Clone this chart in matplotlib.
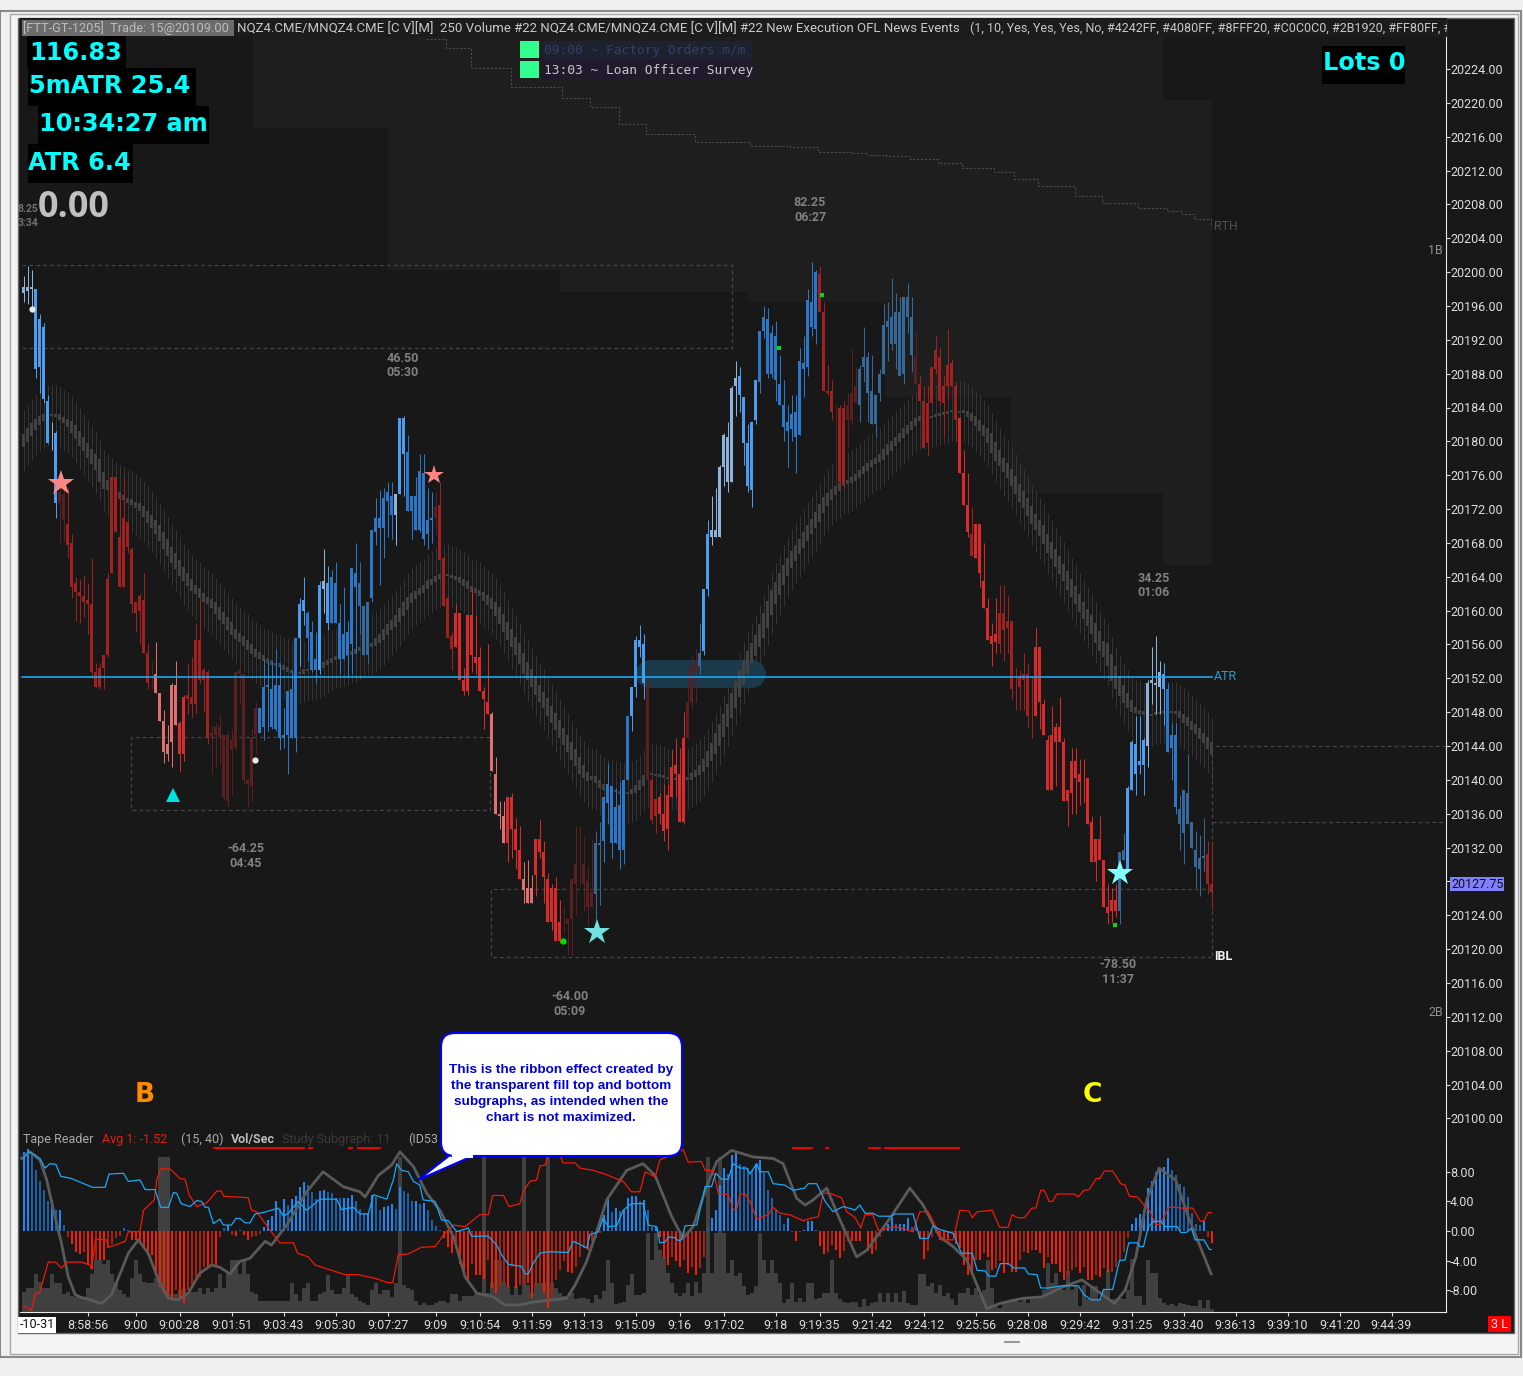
import matplotlib
matplotlib.use('Agg')
import matplotlib.pyplot as plt
import numpy as np
from matplotlib.patches import Rectangle, FancyBboxPatch, Polygon

# all prices are stored minus 20000
BASE = 20000

HIGH = [199.5,200.75,200.25,198,195,194,185.5,182.25,181.25,175.75,
 175.25,174.5,169,164,163.75,164.25,163.25,166.25,153.75,153.75,
 154.75,164.5,175.75,175.75,174,175.75,170.5,167.5,161,162,
 164.5,156,154,156.25,150.25,148.25,146.5,151.5,154,147,
 150,153.75,154.5,158.5,161.5,153.25,153,146.5,146.75,147.75,
 145.25,145.75,146,152.75,153.75,152.5,140.25,146,149.25,148.5,
 154.25,154,154,155.5,153.75,148.5,150.5,153,156.75,161.5,
 164,160,158.75,157.5,163.5,167.25,165.25,164.75,165.75,160.75,
 162.75,158.75,165,168,165.75,160.5,161,169.5,173.25,174.25,
 174.5,175.25,175.25,173.75,182.75,183,180.75,173.5,175.75,178.5,
 178.5,174.5,174,174,175.25,166.5,161.5,157.5,160.75,159.75,
 153.25,159.5,162.5,159.5,155.75,151,156,148,142.75,137.5,
 137.5,138,138.5,135.5,134.5,130.25,130.5,128.75,133,135.25,
 132.75,129,127.75,128.5,125.75,125,123.5,128.25,134.5,134.5,
 133.25,129.75,133,134,135,138,142,139.25,139,139.75,
 140,147.5,151,157,158.25,157.25,152.25,140.25,137.75,138.5,
 139.5,139.5,143.5,145,143.75,148,153.75,154.75,155.5,158.5,
 162.5,170.75,173.5,174.5,177.25,181,182.25,186.5,189.5,188.75,
 185.25,182,182.25,187.25,193,196,195.75,193.75,194.25,190.25,
 187.25,184.25,185.5,185.5,191,192.5,198,201.25,200.25,200.75,
 196.5,189,187.25,184.25,184.25,184.75,185.75,191,188.75,189,
 193.5,190.5,190.25,185.5,188.5,196.25,196.5,199.25,197.5,197,
 197,198.75,197,193,187.75,186.5,186.5,188.75,192.5,191,
 187.75,193.25,189.75,187,182.75,179,176.25,172.25,170.25,170.25,
 168,161.5,158.5,161.5,163,163,161.75,158.75,153.25,153,
 155,153.75,152.25,158,155.75,149.5,145.25,148.75,146.75,149.75,
 145,138.75,143.75,143.75,142.5,142.5,140.25,135.75,133,135.75,
 130.5,127.75,127.25,127.75,131.5,133.75,139.25,144.75,147.5,147.5,
 145,151.75,155.75,157,154,153.75,151.5,146.75,146.75,138.25,
 138.75,143,135,134,133.5,135.5,132.75,132.75]

BODY_TOP = [198.25,198.25,198.25,198,194.5,193.5,184.75,180.5,181,174,
 173.75,170.25,168,163.25,162.25,161.75,161.25,160.75,152.75,153.25,
 154.75,163.75,175.75,175.75,168.75,171,170.5,167.25,161,161.75,
 161.25,155,151,152.5,150.25,147,144.25,151.25,151.25,146.75,
 149.75,150,149.75,156.5,156.5,153,152.75,145.5,146.25,146.25,
 145.25,145.25,144.75,152.75,153,152.5,140,145,148.5,148.5,
 151,151.25,150.75,151.25,151.25,145.25,150.5,150.75,156.75,160.75,
 161.25,159.75,157.5,154.25,163,163.5,163.25,164,163.25,158.5,
 157.25,157.5,165,164.5,163.25,160.5,161,169.5,171,171,
 173.25,174,173.5,173.75,182.75,182.75,178.75,173.5,173.5,176.5,
 176.25,170.75,171,172.25,172.5,166.25,161.5,157,159.75,159.75,
 151.75,159.5,159.5,154.5,154.5,150.5,149.25,147.75,140.75,136,
 135.75,138,138,134.25,131.75,128.25,127.25,127.25,133,133,
 131.5,128.25,127.25,127.25,123.25,122.75,123.5,128.25,130,130,
 130,128,126.75,132.5,132.5,138,139.5,139.25,136.75,137,
 140,147.5,151,156.5,156.5,156,151.5,140,137.75,138,
 136,138.25,141.5,141.75,140.75,145,149.25,153,153.75,155,
 162.5,169,169.5,169.5,177,180.75,180.5,186.25,187.5,187.75,
 185.25,179.75,182.25,187.25,193,194.75,194.5,192.75,192.5,186.75,
 184.25,182.25,183.25,183.5,189.5,189.25,196.75,196.5,200,199.75,
 195.25,186,186,184,184,184,184.25,185.75,186.5,188.5,
 190,190,186,185.5,188,193.75,194.25,194.75,195.25,195.25,
 197,197,194.75,190,186.75,184.75,184.5,188.75,190.75,190,
 186.5,189,189.25,186.5,182.75,176.25,172.5,169,170.25,170.25,
 163.5,160.25,157,157.25,159.75,159.75,158.75,158.75,150.75,152.25,
 152.5,152.5,147.5,155.75,155.75,149,144.75,145.25,146.25,146.25,
 144.5,138.75,142.25,142.25,140.75,140.75,140.25,135,133,133,
 130.5,125,125.75,125.75,131.5,131.75,139,144.5,144.25,142.25,
 144.75,151.5,151.75,151.5,152.75,152.5,150.75,145.25,145.25,136.5,
 138.75,138.5,135,131.75,130.75,131,131.25,127.75]

BODY_BOT = [197.5,197.75,198,188.5,188.75,185,179.75,180.5,172.75,172.75,
 170.75,167.75,162.75,162.25,161.75,161,160.75,152.75,151,151,
 153.25,154.75,164.5,169.25,162.75,162.75,167.5,160.75,159.75,160,
 155,151.5,151,150.25,147,143.25,143,144.5,146.5,143,
 143,149.5,149,149,151.75,151.75,145,145,145.25,145,
 138,137.5,143.5,143.75,152.5,140,139.5,139.25,145.25,145.5,
 146.25,151,146.25,146,145,145,145.25,145,145,156.75,
 160,156.75,153,153,153,162.5,158.5,158.5,158.5,154.25,
 154.25,154.75,156,162.75,160.5,154.75,154.75,161.5,169.25,169.75,
 169.75,173,171.25,171.25,173.75,178.5,171.75,171.75,169.5,169.5,
 168.5,169,170.75,171,166,160.5,156.75,155.5,155.75,151.75,
 150.5,150.5,154.75,153.75,150.5,149.5,147.75,141,136,135.75,
 132.5,132.5,134.25,131.75,128.25,127,125.5,125.5,128.75,131.5,
 128.5,123.25,123.25,121,121,122.75,123,123.5,127.75,130,
 127.75,125,125,126.5,132.25,132.75,137.25,132.5,132.5,131.75,
 131.75,140,147.5,151,155.75,151.5,140,135.25,135.75,136,
 134,134.25,138,140.75,135,135,145,149.25,152.75,153.5,
 155.25,162.5,168.75,168.75,168.75,177,175.25,175.25,186.5,185.5,
 179.75,174.75,174.25,182.5,187,193,188,188,187.25,184.25,
 181.75,181.25,181.5,180.5,180.75,188.5,188.75,193.5,193.25,195.25,
 186,185.75,183.5,184,175.25,175.25,182.5,182.5,184.5,184.25,
 188.75,185.75,182,182,185.75,188,193.5,191.5,191.5,187.75,
 188,194.75,190.25,186.75,184.75,179.25,179.75,184.5,188.5,184.75,
 184.5,186.5,186.5,182.5,176.25,172.5,169.25,166.5,166.25,164.5,
 160.25,156.5,156,156.25,156,157.75,158,150.75,150.75,151,
 151.75,147.5,147.5,147.5,149.25,145.25,138.75,138.75,144.5,144.5,
 137.5,137.5,138.5,140.25,139.75,140.75,134.75,130.25,130.25,130.5,
 125,124.25,124.5,124.5,124.5,130.5,129.25,138.75,140.75,141.75,
 141.75,144,151.5,151.25,151,150.75,143.25,143.75,136.75,134.75,
 133.75,134.75,132,129.75,129.5,130.75,127.75,126.75]

LOW = [196.5,196.25,195.25,187.5,185.75,184.5,179.75,179,171,168,
 168.25,166.25,161.5,158.75,158.5,159.25,157.25,152,151,150.75,
 150.75,154.5,164.5,169.25,162.75,162.75,166.75,159.75,157.5,156,
 155,150.75,150.75,150.25,147,142,142.25,141.5,146.5,141,
 142.25,147.75,147.25,147.75,151.5,148,144.25,140.75,141.5,142,
 137.75,136.75,138.25,143.5,149,139.5,136.75,137.5,143,145.5,
 144.75,145.75,146,145.75,143.5,143.75,140.75,145,143.25,153.5,
 158.25,154,152.75,151.5,152.5,159.75,157.75,158.5,158.5,152.5,
 154.25,152.25,152.5,155,157.25,154.75,153.75,161,167.75,163,
 166.25,168.75,168.5,167.75,173.75,173.5,171.75,168.5,169.5,169.25,
 167.75,167.25,168,169,166,160.5,156.75,153,155.75,151.75,
 150,150,152.75,152.5,150.5,146,147.75,141,136,134.25,
 132.5,130.25,130.75,129.5,128.25,125.5,125.5,125.5,126.25,130.75,
 125.5,123.25,122.25,121,120.75,122,119.25,119.25,124,127.5,
 124.5,122.75,125,123,125.25,130.25,134.75,130.75,132.5,129.5,
 130,140,145.75,149.75,154.5,149.5,140,134.75,133.75,134.75,
 132.75,131.75,138,138,135,134.75,145,148.5,149.25,152.5,
 154.75,161.75,167.75,168.75,168.75,174.75,174,175.25,183,183.5,
 177.25,174,172.25,182,185.75,192.25,187.5,187.5,184.75,184.25,
 180,177,180,176.25,180.75,185.25,187.75,192.5,191.5,195.25,
 186,185.5,182.5,175,174.5,174.5,179.25,182,184.5,182.25,
 187,182.25,182,180.5,184.75,188,189.5,190.75,188.5,187.75,
 186.75,192.75,188.25,186.75,184.75,179.25,178.25,184.5,188,184.25,
 180.5,184.75,186.5,180,176.25,172.5,168.75,166.5,166.25,162.75,
 160.25,156.5,153.5,155,155,154,155,149.5,148.25,148.25,
 148.25,146.25,145,147.5,146,145.25,138.75,138.75,139.25,144.5,
 137.5,134.5,136,136,137,137.25,134.75,130.25,128,130.5,
 125,123,123.25,123.75,123,130.5,129.25,138.75,138.25,140.75,
 138.25,141.5,149,147.75,147.75,146.5,143.25,140,136,131.75,
 130,134.75,132,127.25,126.25,129.25,126.5,124.75]

# bar colour groups, run length coded
COLOR_KEYS = list('PLPLKDKNRDKMLMLPLMSMPLMKDRNRNRKSMLKDRKSLPLMDKDKSKDRDRDRSLPLMSD')
COLOR_RUNS = [3,4,1,1,2,21,1,6,2,6,12,10,2,3,1,1,1,7,3,6,1,2,7,1,4,9,4,4,3,7,8,2,7,4,1,2,7,3,1,2,7,5,15,4,1,2,3,14,1,10,3,1,6,9,21,2,5,4,1,3,7,2]
PALETTE = {'P':'#8fb3dc','L':'#4a9df0','M':'#2a78cc','S':'#35689b','R':'#dc2a2a','D':'#a32020','K':'#5c1f1f','N':'#e07070'}

RIBBON = [180.1,180.75,181.4,182,182.45,182.85,183.1,183.15,183.1,182.85,
 182.5,182.2,181.7,181.1,180.35,179.65,178.95,178.2,177.55,176.55,
 175.35,174.85,174.4,174,173.6,173.35,173.05,172.85,172.5,172.2,
 171.7,171.1,170.5,169.85,169.15,168.3,167.45,166.6,165.9,165.05,
 164.3,163.65,163,162.5,162.1,161.55,161.2,160.85,160.3,159.65,
 159.1,158.5,157.85,157.25,156.85,156.4,155.95,155.45,155,154.7,
 154.35,154.1,153.85,153.65,153.55,153.3,153,152.8,152.65,152.6,
 152.8,153,153.05,153.1,153.3,153.55,153.85,154.1,154.4,154.5,
 154.7,154.8,155,155.2,155.45,155.65,155.85,155.95,156.3,156.7,
 157.2,157.75,158.3,158.8,159.45,160.15,160.85,161.45,161.85,162.3,
 162.55,163.1,163.4,163.75,164,164.2,164.25,164.05,163.9,163.65,
 163.35,163,162.55,162.35,162.1,161.7,161.25,160.8,160.2,159.4,
 158.55,157.6,156.75,155.85,154.95,153.75,152.9,152,151.15,150.2,
 149.45,148.6,147.7,146.9,146,145.15,144.3,143.4,142.6,141.7,
 141,140.4,140.2,140,139.5,139.15,138.9,138.7,138.65,138.5,
 138.4,138.4,138.6,138.9,139.35,139.9,140.4,140.65,140.6,140.5,
 140.35,140.2,140.1,140.1,140.1,140.1,140.15,140.4,140.75,141.15,
 141.7,142.45,143.3,144.3,145.3,146.45,147.6,148.8,150.1,151.4,
 152.7,153.9,154.95,155.9,157.05,158.25,159.55,160.95,162.05,163.1,
 164.2,165.15,166,166.85,167.6,168.35,169.2,169.95,170.7,171.5,
 172.45,173.1,173.7,174.15,174.6,175,175.15,175.4,175.75,176.15,
 176.6,177,177.4,177.7,178,178.45,179,179.5,180,180.45,
 180.95,181.4,181.9,182.3,182.65,182.8,182.9,182.9,183.05,183.15,
 183.3,183.45,183.6,183.5,183.5,183.5,183.2,182.9,182.4,181.85,
 181.3,180.7,179.8,178.8,178,177.2,176.55,175.7,174.85,173.9,
 173.15,172.25,171.3,170.5,169.75,169,167.95,167.1,166.25,165.35,
 164.5,163.6,162.65,161.8,160.9,160,159.2,158.35,157.4,156.4,
 155.5,154.8,153.3,152.1,151.1,150.15,149.4,148.7,148.25,148.05,
 147.85,147.65,147.65,147.8,147.95,148,148,148,147.95,147.7,
 147.25,146.9,146.45,146,145.45,144.95,144.4,143.75]

HIST = [10.7,11.1,10.3,8.2,6.7,5.5,4.05,4.2,2.8,2.8,
 0.8,-0.75,-1.7,-2.8,-3.1,-2.9,-4.6,-5.2,-3.9,-3.9,
 -3.9,-2.3,-1.7,-1,-0.7,0.35,0.15,-1.2,-1.2,-1.7,
 -2.1,-3.2,-3.2,-5.5,-7.5,-8.4,-9,-9.1,-8,-9,
 -9.7,-8,-7.3,-6.4,-6.2,-4.8,-4.8,-4.6,-4.8,-0.8,
 0.35,0.8,-0.6,-0.7,0.1,-0.5,-1.2,-0.85,-0.7,-0.4,
 0.6,1.5,2,4,3,4.3,3.5,4.3,4.7,6,
 6.6,6.2,5.3,4.3,5.4,5.5,5.3,5.2,4.5,4.4,
 4.4,4.5,4.9,4,3,2.4,2.4,4.9,4.6,2.8,
 3.2,3.4,3.7,3,5.9,5.4,5.1,4,4,3.7,
 3.8,2.8,1.5,0.7,0.1,-1,-2.1,-3,-1.9,-4.4,
 -5.7,-6.6,-4.4,-5.9,-5.9,-6.5,-3.9,-7.7,-8.4,-7.5,
 -7,-7.5,-4.8,-7.7,-7.3,-7,-7,-9.1,-7.5,-7,
 -8.4,-10.4,-9.1,-6.6,-5.3,-4.1,-5.5,-5.7,-4.8,-3.5,
 -2.3,-2.6,-1.4,-1,-0.3,2.2,4.5,2.6,3.1,2.7,
 2.9,4.4,4.7,4.7,4.1,4.2,2.8,0.6,0.6,-0.8,
 -3.7,-4.6,-3.5,-4.1,-4.9,-3.9,-5.7,-4.8,-6,-5,
 -3.5,0.5,1.8,2.8,6.2,8.5,7.7,10.3,10.8,9.1,
 8.8,8.5,8.2,9,9.6,7.8,5.6,4.4,3,2.2,
 1,1.7,-0.2,-1.3,-0.1,0.1,1.3,1.4,0.2,-2,
 -3.1,-2.9,-1.9,-2.5,-3.7,-2.7,-1.4,-1.4,-1.4,-1.4,
 0,-2.7,-3.1,-2.6,-0.8,0.4,1,1.9,1,1,
 1,1.7,0.6,0.5,-0.9,-3.8,-2.7,-0.8,-0.3,-1.2,
 -1.2,-1.2,-0.3,-1.7,-2.3,-4.6,-6,-6,-3.9,-3.9,
 -3,-3.5,-5.3,-5,-4.1,-5.7,-4.6,-5.5,-5.5,-3.9,
 -2.8,-3,-2.5,-2.6,-3,-5,-3.5,-4.5,-4.5,-5.5,
 -6.6,-6,-5.3,-4.8,-5.7,-4.8,-6.6,-6.6,-6,-6.2,
 -5,-5.6,-5.5,-4.8,-4.1,-2.8,-0.9,1,1.8,2.3,
 2.8,5.8,6.7,8,8.5,8.7,9.8,8.2,7.6,6.4,
 6,4.6,2.4,1,0.8,1.3,-0.8,-1.6]

VOLUME = [2.7,3.2,3.2,5.2,4,3.2,3.2,5.2,3.9,3.9,
 2.4,2.7,2.2,2,2,2,3.2,5.2,7,7,
 6.5,7,5.2,4,3,2.5,2,4.6,7,5.2,
 4,3.9,3.9,4.6,21,21,21,2.4,2.4,3,
 3.2,2.5,2.7,2.7,3.2,2.4,3.2,2.7,3.2,5.2,
 3.2,5.2,7,7,5.2,7,5.2,2.7,2.4,1.5,
 1.5,1.5,1.5,1.5,1.5,1.5,1.5,3.9,2.4,1.5,
 3.2,3.9,1.5,1.5,2.4,2.7,5,3,2.4,2.4,
 3.2,5,2.4,2,1.5,1.2,1,3,3.9,2.4,
 3,3,2,3.9,21,3.7,3.2,3,1.5,1,
 1.2,1,1,1.2,1.5,1.5,1.2,2.4,2.4,1.5,
 2.2,2.2,2.2,2.4,2.4,21,2.6,3.9,7,7,
 4.1,3.5,2.3,3.5,2.3,21,3.7,2.6,3.9,3.9,
 3.9,21,3.9,3.2,2.6,2.1,1.9,2.6,1.7,1.9,
 1.9,1.7,1.2,2.3,1.7,2.8,7,3.9,1.1,1.2,
 1.4,3.7,5.2,2.3,2.3,2.6,10.7,7,10.7,8.4,
 7.5,5.3,3.9,2.6,2.1,2.6,3.9,2.1,4.1,2.6,
 5.3,21,5.3,10.7,21,10.7,5.3,7,4.8,5.3,
 3.5,2.3,2.6,3.5,10.7,7,5.3,7,5.3,3.9,
 1.2,1.7,3.9,1.4,1.9,1.4,3.9,3.9,1.7,1.9,
 2.6,2.6,7,2.6,1.7,1.4,1.2,1.4,1.4,0.7,
 1.7,0.8,1.2,1.4,2.6,1.4,2.6,1.4,2.6,1.4,
 2.8,1.2,1,1,5.2,5.2,3.5,3.9,2.6,3.7,
 2.1,2.6,1.7,1,2.6,2.6,3.2,2.3,3.2,2.3,
 3,7,3.2,0.8,0.5,1.2,1.4,1.7,1.7,1.4,
 1.7,1.2,1.7,1.9,2.1,3,6.6,3.9,5.3,3.5,
 3,5.5,3,3.7,0.8,3.7,1.7,3.5,3.5,1.7,
 3,5.7,1.7,1.7,1.9,1.7,3,7.1,2.1,2.1,
 1,7,5.3,5.3,1.9,1.2,1,1.1,0.8,1.2,
 1.1,1,0.8,0.8,1.6,0.5,1.6,0.4]

RED_X = [0,2,3,4,6.2,8,9.5,10.8,14.5,16.6,17,18,20.8,21.2,22.9,25.4,26.2,29.1,30,32.7,33.3,34.3,36.6,39.1,40.4,41.4,43.3,45.8,48.3,49.5,50,56.2,57,58.3,62.9,64.1,67.5,68.5,71.2,72.9,77.5,80.4,83.7,87.9,91.2,92.3,93.7,96.2,99.5,102.9,105.4,107.5,110.4,114.1,116.2,117.3,120,121.4,124.1,124.9,126.6,128.3,129.1,130.4,131.2,134.1,134.9,137.9,139.1,142.4,145.8,149.9,152,154.1,155.4,157.9,159.1,164.9,166.2,169.5,170.4,172.4,173.7,176.2,177.4,178.3,179.1,180.4,181.6,183.3,186.2,187.4,189.1,191.6,194.9,197.4,198.7,199.9,201.6,204.5,205.8,207.9,209.3,210.4,212.3,213.7,216.2,217.9,222.4,224.1,226.2,228.7,229.5,232.4,234.1,236.3,237.2,238.4,242.2,244,246.2,247.1,248.5,250.3,252.1,253.1,254.3,255.2,256.4,257.3,258.3,262.6,263.7,265.1,266.4,268.2,269.1,270.2,272.3,274.3,275.4,276.5,278.5,280.3,281.7,283,284.2,286.3,288.4,289.3,292.3,294.2,295.1,296.2,296.9]
RED_Y = [-10.1,-10.7,-8.4,-8.4,-4.2,-4.2,-5,-4.2,-4.2,-4.6,-5.2,-1.1,-1.2,-2.2,-1.9,-1.4,-0.1,-0.1,2.8,4.2,6.9,8.4,8.4,7.1,7,4.9,3.3,3.8,5.4,5.4,4.7,4.5,2.8,2.6,-0.8,-1.6,-1.6,-3,-3.5,-4.6,-5.4,-5.9,-5.9,-6.4,-7,-7,-3.2,-3.1,-2.2,-2.1,-0.3,0.8,0.6,2.2,2.2,4.8,4.8,3.3,3.7,5.3,6.7,6.9,8.8,8.9,10.3,10.3,9.2,9.2,8.5,8.2,7.6,6.7,5.3,5.3,8,7.3,9.6,11,9.3,9.4,8.2,8.2,5.1,4.9,2.9,2.9,5,5,4,1.6,2.2,3.2,2.4,2.2,1.4,1.8,1.9,5.1,5.1,4.5,2.6,1.8,0.4,2.2,2.2,0.1,0.4,0.6,-0.1,2.6,2.6,-0.1,-1.2,-1.2,2.8,2.7,1.8,2.6,2.8,0.5,0.5,2.2,1.8,1.8,3.1,3.1,5.5,5.5,4,4,5,5,4.6,5.5,5.6,7.1,7.1,8.1,8.1,6.4,6.2,4.7,4.6,3.4,2.6,0.9,0.9,3.2,3.2,3.1,3.1,1.3,1.4,2.5,2.5]

BLUE_X = [0,1.2,2.5,4.1,5.4,6.6,8.1,9.3,12,13.7,17.3,20.4,21.4,25,26.2,29.1,30.4,32.9,34.3,36.2,37.5,38.3,39.4,41.6,43.3,44.5,45.4,46.2,47.5,49.1,50,52,53.1,54.1,55.4,56.6,57.9,60,63.7,65,66.2,68.7,70.8,74.1,78.3,79.5,82.5,84.1,86.2,87.5,90.8,92.5,93.3,94.5,96.2,97.5,99.1,99.9,102.9,104.5,106.2,108.3,111.2,112,116.2,118.3,119.5,121.2,124.5,125.4,126.2,127.4,129.1,131.2,136.2,137.4,138.7,140.8,141.6,143.7,144.9,146.2,148.3,149.9,152,154.9,156.2,158.3,159.1,160.4,161.2,162.9,163.7,164.5,165.4,168.3,170.4,172,173.1,174.5,176.2,177.4,179.1,180.8,181.6,183.3,184.1,186.2,187.4,190.3,192.4,195.3,196.2,198.3,200.4,202.4,204.9,207,207.8,209.1,210.4,212.4,213.7,217,217.9,222.4,224.1,226.2,227.4,229.1,232.4,234.5,237.2,238.4,240.4,241.3,243.1,244.2,246.2,247.6,250.3,251.2,253.4,254.3,256.1,259.7,263.7,265.1,266.9,269.1,270,272.3,274,275.4,276.3,278.5,279,280,281.2,282.6,284.4,285.3,288.4,289.3,290.7,292,292.9,295.1,296.5,296.9]
BLUE_Y = [9.8,10.7,10.4,9.8,8.5,9.1,9,7.4,7.1,6.7,5.9,5.9,7.7,7.8,6.7,6.9,5.6,5.6,3.2,3.2,5.2,5.1,3.7,3.3,4.1,4,3.2,3.2,1,1.6,0.8,0.8,1.7,1.7,1.1,1.1,2.3,2.5,3.1,2,2.4,4,2.8,4.3,4.3,2.9,3.2,2.3,2.3,4.9,4.3,7,9.1,8.2,8,6.7,6.2,4.2,4,1.5,1.4,-0.1,0.4,-0.7,-0.7,-1.9,-3.2,-4.5,-4.8,-5.8,-5.8,-4.4,-3,-2.8,-2.9,-1.4,-1.7,-2.3,-0.5,-0.1,1.7,0.6,0.7,2.8,3.7,3.7,0.8,0.6,-1.6,-1.5,-0.8,-0.9,-1.3,-1.2,0.7,0.8,6,6,7.8,7,7,9.1,8.5,8.5,7.7,9.1,8,8,6.4,6.2,5.5,5.8,6.4,6.4,4,2.6,3.3,3,2.8,3.5,2.4,2.4,2,2,2.3,2.3,-1,-1,0.7,0.2,-0.3,-3,-3,-5.3,-5.4,-6.1,-6.1,-4.4,-4.4,-5,-5,-5.8,-5.9,-7.7,-7.7,-7.4,-7.4,-8.6,-9.3,-9.3,-7.9,-7.9,-4,-3.9,-1.6,-1.6,-2.1,-2.1,0.6,1.3,1.3,0.6,0.6,-0.2,-0.2,0.4,-1.2,-1.2,-2.5,-2.5]

GRAY_X = [-0.5,1.6,4.1,5.8,7.5,9.5,11.2,12.9,14.1,16.6,19.5,22,24.5,26.2,28.7,31.2,33.7,36.2,38.7,41.2,44.1,47,49.1,51.6,54.1,56.6,60.4,62,65.8,70.8,74.9,79.9,84.1,85.4,88.7,92,94.1,97.5,100.8,104.1,107.5,110.4,113.3,117.4,120.4,124.1,127.4,135.8,137.9,140.8,143.7,145.8,150.8,154.9,157.9,162,164.9,167.4,170.8,173.3,177,182.4,187.4,189.9,193.3,195.4,197.4,200.8,203.7,208.3,210.8,216.6,221.6,224.9,229.1,232.4,235.8,240.8,244,249.8,254.7,259.2,264.6,268.2,272.7,275.4,278.1,280.8,283.9,288,291.5,296.9]
GRAY_Y = [9.8,10.7,9.6,6.9,2.8,-1.7,-6.2,-8.6,-8.9,-9.3,-9.8,-8.6,-5.3,-3,-1.2,-3,-6.6,-9.1,-9.3,-8.4,-5.7,-4.6,-4.9,-5.8,-4.1,-3.7,-1.4,-1.9,0.8,5.3,8,6,5.3,4.6,7.5,8.9,10.7,8.7,5.1,2.8,-0.8,-6.2,-8.4,-8.9,-10,-10,-9.6,-9.1,-7.3,-4.1,0.6,4.2,8.2,9.1,7.5,2,-1,0.6,6,9.4,10.9,10,9.8,9.1,4.4,3.5,4.2,5.8,2,-3.5,-2.6,1.7,5.8,3.5,-0.8,-2.1,-3.9,-10.5,-9.8,-9.1,-8.9,-7.7,-6.6,-8,-9.8,-8,-3.5,4.2,8.5,6.9,1.5,-5.8]

SHADE_X = [57.4,91,134,181,215.4,246.9,284.9,297]
SHADE_LOW = [217,200.25,197.6,196.5,185.25,173.9,165.4,165.4]
SHADE_TOP = [227.8,227.8,227.8,227.8,227.8,227.8,220.3,220.3]

RTH_X = [100.6,105.6,111.8,121.9,134.6,141.6,148.9,155.6,167.8,181.6,191.6,198.6,206.9,210.6,215.6,221.6,228.6,234.6,242.6,247.6,253.6,262.9,269.6,278.6,285.9,289.6,292.6,296.9]
RTH_Y = [227.5,226.5,224.1,221.9,220.6,219.5,217.5,216.3,215.4,214.9,214.8,214.2,214.1,213.8,213.7,213.4,212.9,212.3,211.8,211,210.2,209,208.2,207.6,207.2,206.9,206.3,205.3]

TIME_TICKS = [16,28,39,52,65,78,91,103,114,127,140,153,164,175,188,199,212,225,238,251,264,277,290,303,316,329,342]
TIME_LABELS = ['8:58:56','9:00','9:00:28','9:01:51','9:03:43','9:05:30','9:07:27','9:09','9:10:54','9:11:59','9:13:13','9:15:09','9:16','9:17:02','9:18','9:19:35','9:21:42','9:24:12','9:25:56','9:28:08','9:29:42','9:31:25','9:33:40','9:36:13','9:39:10','9:41:20','9:44:39']

W, H = 1523, 1376
DARK = '#181818'
LEFT, RIGHT, TOP, MID, BOTTOM = 20, 1446, 18, 1147, 1312
TICK_FONT = 'Roboto'

fig = plt.figure(figsize=(W/100, H/100), dpi=100, facecolor='#f0f0f0')

def pane(top, bottom):
    return fig.add_axes([LEFT/W, 1-bottom/H, (RIGHT-LEFT)/W, (bottom-top)/H], facecolor=DARK)

# window frame, in pixels
back = fig.add_axes([0, 0, 1, 1], zorder=-1)
back.set_xlim(0, W); back.set_ylim(H, 0); back.axis('off')
back.add_patch(Rectangle((0, 11), 1521, 1346, fc='#f0f0f0', ec='#8a8a8a', lw=1.5))
back.add_patch(Rectangle((10, 14), 1508, 1340, fc='#f4f4f4', ec='#a8a8a8', lw=1))
back.add_patch(Rectangle((18, 18), 1496, 1315, fc=DARK, ec='#666666', lw=1))
back.add_patch(Rectangle((1004, 1341), 16, 2, fc='#999999'))

ax = pane(TOP, MID)
ax.set_xlim((LEFT-23.5)/4, (RIGHT-23.5)/4)
ax.set_ylim(224-(MID-69)/8.4625, 224+(69-TOP)/8.4625)

n = np.arange(len(HIGH))
colors = [PALETTE[k] for k, c in zip(COLOR_KEYS, COLOR_RUNS) for _ in range(c)]

ax.fill_between(SHADE_X, SHADE_LOW, SHADE_TOP, step='post', color='#1e1e1e', lw=0, zorder=0)

# ribbon: wick fixed width, body follows the slope
rib = np.array(RIBBON)
rib_x = np.arange(len(rib))
rib_half = np.maximum(1.2*np.abs(np.gradient(rib)), 0.12)
ax.vlines(rib_x, rib-3.6, rib+3.6, color='#343434', lw=0.72, zorder=1)
ax.bar(rib_x, 2*rib_half, bottom=rib-rib_half, width=0.8, color='#424242', lw=0, zorder=1.5)

# dashed range boxes
dash = dict(color='#464646', lw=0.9, ls=(0, (3, 2.5)), zorder=1.2)
ax.plot([-0.5, 177.1, 177.1, -0.5], [200.8, 200.8, 191, 191], **dash)
ax.plot([116.6, 26.9, 26.9, 116.6, 116.6], [145.06, 145.06, 136.4, 136.4, 145.06], **dash)
ax.plot([297, 116.9, 116.9, 297], [127.1, 127.1, 119.07, 119.07], **dash)
ax.plot([355.6, 297, 297], [144, 144, 119.07], **dash)
ax.plot([297, 355.6], [135, 135], **dash)
ax.step(RTH_X, RTH_Y, where='post', color='#4a4a4a', lw=0.8, ls=(0, (2, 1.5)), zorder=1.2)

# ATR band and line
ax.plot([156.6, 182], [152.5, 152.5], color='#1a3a4c', lw=20, solid_capstyle='round', zorder=1.4)

ax.vlines(n, LOW, HIGH, color=colors, lw=0.72, zorder=3)
ax.bar(n, np.array(BODY_TOP)-np.array(BODY_BOT), bottom=BODY_BOT, width=0.8, color=colors, lw=0, zorder=3)

ax.plot([-0.4, 297], [152.1, 152.1], color='#1ea8ee', lw=1.2, zorder=4)

# markers on the price pane
ax.plot([9.3], [175.1], ls='', marker='*', ms=19, color='#ff8585', mew=0, zorder=5)
ax.plot([102.6], [176], ls='', marker='*', ms=15, color='#ff8585', mew=0, zorder=5)
ax.plot([143.4], [122], ls='', marker='*', ms=19, color='#70e0e0', mew=0, zorder=5)
ax.plot([274.1], [129], ls='', marker='*', ms=19, color='#80ffff', mew=0, zorder=5)
ax.plot([37.4], [138.2], ls='', marker='^', ms=9.5, color='#00e0e0', mew=0, zorder=5)
ax.plot([2, 57.9], [195.6, 142.3], ls='', marker='o', ms=4.5, color='#e8e8e8', mew=0, zorder=5)
ax.plot([134.9], [121], ls='', marker='o', ms=4.5, color='#00dd00', mew=0, zorder=5)
ax.plot([272.9, 199.6, 188.9], [122.9, 197.3, 191], ls='', marker='s', ms=2.7, color='#00e000', mew=0, zorder=5)

ax.set_yticks(np.arange(100, 225, 4))
ax.set_yticklabels([f'{BASE+t:.2f}' for t in np.arange(100, 225, 4)], family=TICK_FONT, fontsize=9)
ax.yaxis.tick_right()
ax.tick_params(axis='y', colors='#dddddd', length=3, width=0.8, pad=0)
ax.set_xticks([])
for s in ['top', 'left', 'bottom']:
    ax.spines[s].set_visible(False)
ax.spines['right'].set_color('#e8e8e8')

# lower pane
sub = pane(MID, BOTTOM)
sub.set_xlim(ax.get_xlim())
sub.set_ylim((1231-BOTTOM)/7.4, (1231-MID)/7.4)
hist = np.array(HIST)
prev = np.r_[hist[0], hist[:-1]]
rising = np.abs(hist) >= np.abs(prev)
hist_colors = np.where(hist >= 0, np.where(rising, '#1e88f0', '#1c5fa8'), np.where(rising, '#f02000', '#a82010'))
sub.bar(n, VOLUME, bottom=sub.get_ylim()[0], width=1, color='#404040', lw=0, zorder=1)
# the small shift keeps each bar on two whole pixels
sub.bar(n+0.125, hist, width=0.6, color=hist_colors, lw=0, zorder=2)
sub.plot(GRAY_X, GRAY_Y, color='#5a5a5a', lw=2, zorder=3)
sub.plot(RED_X, RED_Y, color='#f01808', lw=0.9, zorder=4)
sub.plot(BLUE_X, BLUE_Y, color='#18a8f8', lw=0.9, zorder=5)

sub.set_yticks([8, 4, 0, -4, -8])
sub.set_yticklabels(['8.00', '4.00', '0.00', '-4.00', '-8.00'], family=TICK_FONT, fontsize=9)
sub.yaxis.tick_right()
sub.set_xticks(TIME_TICKS)
sub.set_xticklabels(TIME_LABELS, family=TICK_FONT, fontsize=9)
sub.tick_params(colors='#dddddd', length=3, width=0.8, pad=2)
sub.tick_params(axis='y', pad=0)
for s in ['top', 'left']:
    sub.spines[s].set_visible(False)
sub.spines['right'].set_color('#e8e8e8')
sub.spines['bottom'].set_color('#e8e8e8')

# everything written on top, in pixels
top = fig.add_axes([0, 0, 1, 1], zorder=10)
top.set_xlim(0, W); top.set_ylim(H, 0); top.axis('off')

def box(x0, y0, x1, y1, c, **kw):
    top.add_patch(Rectangle((x0, y0), x1-x0, y1-y0, fc=c, ec='none', **kw))

def label(x, y, s, c='#808080', size=9, fam='Roboto', w='normal', ha='left'):
    return top.text(x, y+1, s, color=c, fontsize=size, family=fam, weight=w, ha=ha, va='center')

box(20, 18, 1447, 37, '#1c1c1c')
box(22, 20, 234, 36, '#6c6c6c')
label(23, 27.5, '[FTT-GT-1205]  Trade: 15@20109.00', '#bcbcbc', 9.2)
label(237, 27.5, 'NQZ4.CME/MNQZ4.CME [C V][M]  250 Volume #22 NQZ4.CME/MNQZ4.CME [C V][M] #22 New Execution OFL News Events', '#c8c8c8', 9.5)
t = label(970, 27.5, '(1, 10, Yes, Yes, Yes, No, #4242FF, #4080FF, #8FFF20, #C0C0C0, #2B1920, #FF80FF, #', '#c8c8c8', 9)
t.set_clip_on(True); t.set_clip_box(matplotlib.transforms.Bbox([[0, 0], [1447, H]]))

# corner readouts
for x0, y0, x1, y1, tx, ty, s in [(27, 36, 126, 68, 29, 52, '116.83'),
                                  (28, 68, 196, 106, 29, 85, '5mATR 25.4'),
                                  (38, 106, 209, 144, 39, 123, '10:34:27 am'),
                                  (28, 144, 133, 183, 28, 162, 'ATR 6.4'),
                                  (1322, 46, 1405, 84, 1323, 62, 'Lots 0')]:
    box(x0, y0, x1, y1, '#000000')
    label(tx, ty, s, '#00ffff', 17.3, 'DejaVu Sans', 'bold')
label(38, 207, '0.00', '#c0c0c0', 26, 'Open Sans', 'bold')
label(18, 208, '8.25', '#707070', 7.5, w='bold')
label(18, 222, '3:34', '#707070', 7.5, w='bold')

# news items
box(543, 41, 752, 59, '#1c2230')
box(543, 60, 754, 79, '#201a2c')
box(520, 41, 539, 58, '#30ff90')
box(520, 61, 539, 78, '#30ff90')
label(544, 49.5, '09:00 ~ Factory Orders m/m', '#34425e', 9.3, 'DejaVu Sans Mono')
label(544, 69.5, '13:03 ~ Loan Officer Survey', '#c8c8c8', 9.3, 'DejaVu Sans Mono')

# swing labels
for cx, y, a, b in [(810, 202, '82.25', '06:27'), (403, 357, '46.50', '05:30'),
                    (246, 848, '-64.25', '04:45'), (570, 996, '-64.00', '05:09'),
                    (1118, 964, '-78.50', '11:37'), (1154, 577, '34.25', '01:06')]:
    label(cx, y, a, ha='center', w='bold')
    label(cx, y+14.5, b, ha='center', w='bold')

label(1214, 225, 'RTH', '#505050', 9)
label(1214, 675, 'ATR', '#1e9fd8', 9)
label(1214, 956, 'IBL', '#f0f0f0', 9, w='bold')
label(1428, 250, '1B', '#909090', 9)
label(1428, 1011, '2B', '#909090', 9)
box(1450, 877, 1504, 891, '#8080ff')
label(1451, 883, '20127.75', '#101010', 9)
label(135, 1094, 'B', '#ff8c00', 19, 'DejaVu Sans', 'bold')
label(1083, 1094, 'C', '#ffff00', 19, 'DejaVu Sans', 'bold')

# lower pane header
label(23, 1138, 'Tape Reader', '#aaaaaa', 9)
label(102, 1138, 'Avg 1: -1.52', '#e02010', 9)
label(181, 1138, '(15, 40)', '#aaaaaa', 9)
label(231, 1138, 'Vol/Sec', '#bbbbbb', 9, w='bold')
label(282, 1138, 'Study Subgraph: 11', '#3a3a3a', 9)
label(408, 1138, '(ID53', '#aaaaaa', 9)
for x0, x1 in [(213, 305), (308, 313), (348, 353), (357, 381), (792, 813), (825, 829), (868, 881), (884, 960)]:
    box(x0, 1147, x1, 1149, '#ee0000')

# date tag and the red counter
box(18, 1317, 56, 1333, '#ffffff')
label(20, 1324, '-10-31', '#111111', 9)
box(1488, 1316, 1511, 1332, '#ff0000')
label(1499.5, 1323, '3 L', '#f0f0f0', 9, ha='center')

# callout
top.add_patch(Polygon([(475, 1155), (418, 1180), (450, 1155)], fc='#ffffff', ec='#0000ff', lw=1.5, zorder=3))
top.add_patch(FancyBboxPatch((441, 1033), 241, 123, boxstyle='round,pad=0,rounding_size=14',
                             fc='#ffffff', ec='#0000ff', lw=1.5, mutation_aspect=1, zorder=4))
box(452, 1150, 473, 1158, '#ffffff', zorder=5)
for i, s in enumerate(['This is the ribbon effect created by', 'the transparent fill top and bottom',
                       'subgraphs, as intended when the', 'chart is not maximized.']):
    tx = label(561, 1069+16*i, s, '#0000d8', 9.7, 'Liberation Sans', 'bold', ha='center')
    tx.set_zorder(6)

fig.savefig('out.png', dpi=100, facecolor=fig.get_facecolor())
